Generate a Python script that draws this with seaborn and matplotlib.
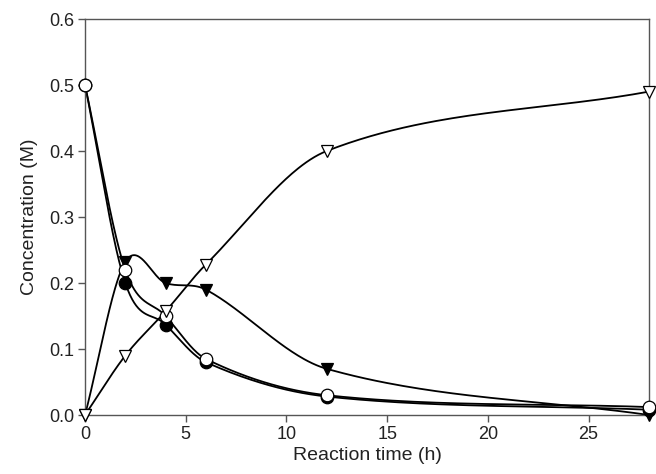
import numpy as np
import seaborn as sns
import matplotlib
matplotlib.use('Agg')
import matplotlib.pyplot as plt

# data
time_h = [0, 2, 4, 6, 12, 28]
open_circle = [0.50, 0.220, 0.150, 0.085, 0.030, 0.012]
filled_circle = [0.50, 0.200, 0.137, 0.080, 0.028, 0.008]
filled_tri = [0.00, 0.232, 0.200, 0.190, 0.070, 0.000]
open_tri = [0.00, 0.090, 0.157, 0.228, 0.400, 0.490]


def smooth_line(x, y, n=60):
    # cubic hermite (catmull-rom style slopes) only for the drawn curve
    x = np.asarray(x, float)
    y = np.asarray(y, float)
    k = len(x)
    m = np.zeros(k)
    m[0] = (y[1] - y[0]) / (x[1] - x[0])
    m[-1] = (y[-1] - y[-2]) / (x[-1] - x[-2])
    m[1:-1] = (y[2:] - y[:-2]) / (x[2:] - x[:-2])
    xs_all, ys_all = [], []
    for i in range(k - 1):
        h = x[i + 1] - x[i]
        s = np.linspace(0, 1, n)
        h00 = 2 * s**3 - 3 * s**2 + 1
        h10 = s**3 - 2 * s**2 + s
        h01 = -2 * s**3 + 3 * s**2
        h11 = s**3 - s**2
        xs_all.append(x[i] + s * h)
        ys_all.append(h00 * y[i] + h10 * h * m[i] + h01 * y[i + 1] + h11 * h * m[i + 1])
    return np.concatenate(xs_all), np.concatenate(ys_all)


sns.set_style('ticks')
plt.rcParams['font.family'] = ['Liberation Sans', 'DejaVu Sans']

fig = plt.figure(figsize=(6.56, 4.74), dpi=100)
ax = fig.add_axes([85 / 656, 59 / 474, 564 / 656, 396 / 474])

series = [
    (filled_tri, 'v', 'black'),
    (filled_circle, 'o', 'black'),
    (open_circle, 'o', 'white'),
    (open_tri, 'v', 'white'),
]

for vals, mk, fc in series:
    xs, ys = smooth_line(time_h, vals)
    sns.lineplot(x=xs, y=ys, ax=ax, color='black', lw=1.3, sort=False,
                 estimator=None, clip_on=False)
for vals, mk, fc in series:
    ax.plot(time_h, vals, linestyle='none', marker=mk, markersize=9,
            markerfacecolor=fc, markeredgecolor='black', markeredgewidth=0.9,
            clip_on=False, zorder=5)

ax.set_xlim(0, 28)
ax.set_ylim(0, 0.6)
ax.set_xticks([0, 5, 10, 15, 20, 25])
ax.set_yticks([0.0, 0.1, 0.2, 0.3, 0.4, 0.5, 0.6])
ax.set_yticklabels(['0.0', '0.1', '0.2', '0.3', '0.4', '0.5', '0.6'])
ax.set_xlabel('Reaction time (h)', fontsize=14, color='#222222', labelpad=3)
ax.set_ylabel('Concentration (M)', fontsize=14, color='#222222', labelpad=8)
ax.tick_params(axis='both', labelsize=13, colors='#555555', length=5,
               width=1, labelcolor='#222222', direction='out', pad=3)
ax.tick_params(top=False, right=False)
for sp in ax.spines.values():
    sp.set_color('#555555')
    sp.set_linewidth(1)
    sp.set_visible(True)

fig.savefig('out.png', dpi=100)
